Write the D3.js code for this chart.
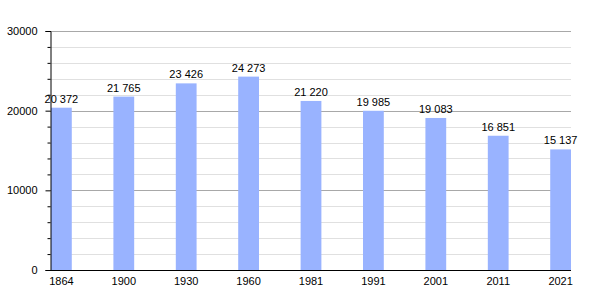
<!DOCTYPE html>
<html><head><meta charset="utf-8">
<script src="https://cdn.jsdelivr.net/npm/d3@7"></script>
<style>body{margin:0;background:#fff}svg{display:block}text{font-family:"Liberation Sans",Arial,sans-serif}</style>
</head><body><svg id="c" width="600" height="300"></svg>
<script>
const years = ["1864","1900","1930","1960","1981","1991","2001","2011","2021"];
const population = [20372,21765,23426,24273,21220,19985,19083,16851,15137];
const yTicks = [0,10000,20000,30000];
const yMinor = d3.range(0,30001,2000);

const svg = d3.select("#c");
const L=50, R=571, T=31, B=270;
const x = d3.scaleBand().domain(years).range([L+1,R]).paddingInner(0.667).paddingOuter(0);
const y = d3.scaleLinear().domain([0,30000]).range([B,T]);
const fmt = d3.formatLocale({decimal:",",thousands:"\u00a0",grouping:[3],currency:["",""]}).format(",d");

// grid
svg.append("g").selectAll("line").data(yMinor.filter(v=>v%10000!==0)).join("line")
  .attr("x1",L).attr("x2",R).attr("y1",d=>Math.round(y(d))+0.5).attr("y2",d=>Math.round(y(d))+0.5)
  .attr("stroke","#e0e0e0").attr("stroke-width",1);
svg.append("g").selectAll("line").data(yTicks.filter(v=>v>0)).join("line")
  .attr("x1",L).attr("x2",R).attr("y1",d=>Math.round(y(d))+0.5).attr("y2",d=>Math.round(y(d))+0.5)
  .attr("stroke","#a8a8a8").attr("stroke-width",1);

// bars
svg.append("g").selectAll("rect").data(population).join("rect")
  .attr("x",(d,i)=>x(years[i])).attr("width",x.bandwidth())
  .attr("y",d=>y(d)).attr("height",d=>B-y(d)).attr("fill","#99b3ff");

// value labels
svg.append("g").selectAll("text").data(population).join("text")
  .attr("x",(d,i)=>x(years[i])+x.bandwidth()/2).attr("y",d=>y(d)-5)
  .attr("text-anchor","middle").attr("font-size",11).attr("fill","#000")
  .text(d=>fmt(d));

// y axis
const ya = d3.axisLeft(y).tickValues(yTicks).tickSize(5).tickFormat(d3.format("d"));
const gy = svg.append("g").attr("transform",`translate(${L+0.5},0)`).call(ya);
gy.select(".domain").attr("stroke","#000");
gy.selectAll(".tick text").attr("font-size",11).attr("x",-13).attr("fill","#000").style("font-family","'Liberation Sans',Arial,sans-serif");
const ym = d3.axisLeft(y).tickValues(yMinor.filter(v=>v%10000!==0)).tickSize(3).tickFormat("");
const gym = svg.append("g").attr("transform",`translate(${L+0.5},0)`).call(ym);
gym.select(".domain").remove();

// x axis
const xa = d3.axisBottom(x).tickSize(0).tickPadding(7);
const gx = svg.append("g").attr("transform",`translate(0,${B+0.5})`).call(xa);
gx.select(".domain").attr("d",`M${L},0H${R}`).attr("stroke","#000");
gx.selectAll(".tick text").attr("font-size",11).attr("fill","#000").style("font-family","'Liberation Sans',Arial,sans-serif");
</script></body></html>
